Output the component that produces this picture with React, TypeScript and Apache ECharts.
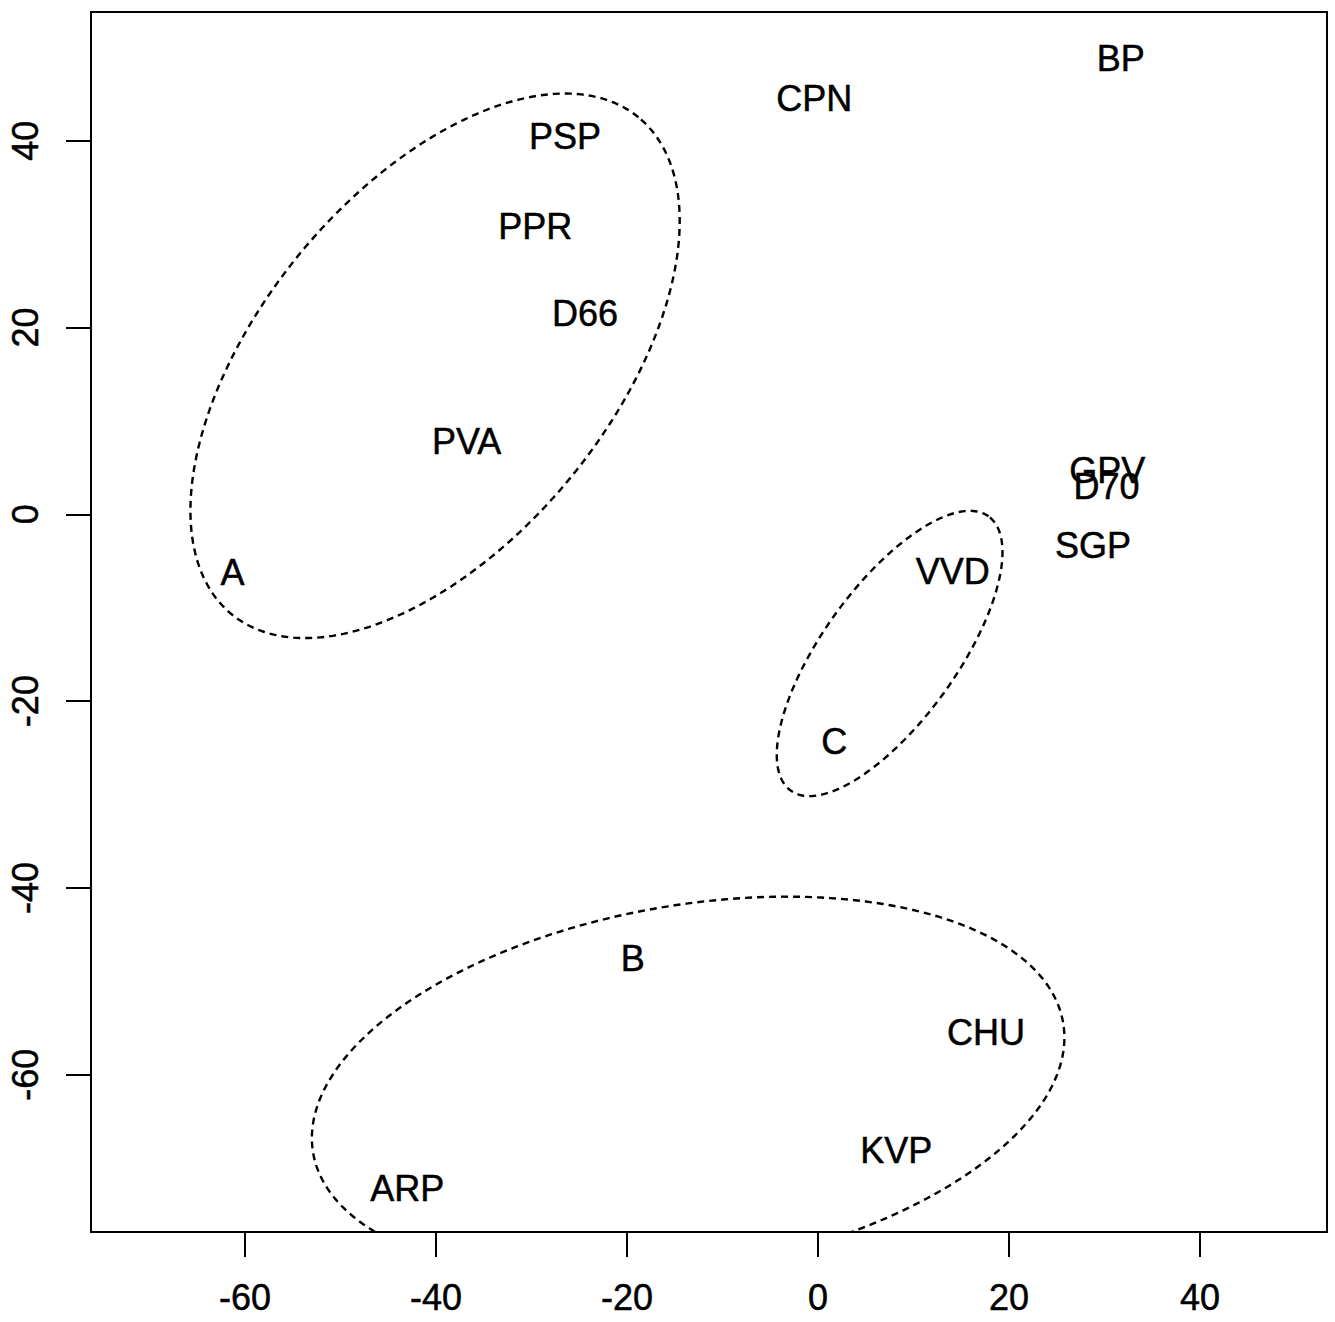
import React, { useEffect, useRef } from "react";
import * as echarts from "echarts";

// Party labels and their coordinates
const parties = ["BP", "CPN", "PSP", "PPR", "D66", "PVA", "GPV", "D70", "SGP", "VVD", "A", "C", "B", "CHU", "KVP", "ARP"];
const xValues = [31.7, -0.4, -26.5, -29.6, -24.4, -36.8, 30.3, 30.2, 28.8, 14.1, -61.3, 1.7, -19.4, 17.6, 8.2, -43.0];
const yValues = [48.8, 44.5, 40.4, 30.8, 21.5, 7.8, 4.7, 3.0, -3.3, -6.1, -6.2, -24.3, -47.6, -55.5, -68.1, -72.2];

// Cluster ellipses: centre x, centre y, semi-major, semi-minor, angle (deg)
const ellipseCx = [-40.1, -13.6, 7.5];
const ellipseCy = [15.9, -61.4, -14.9];
const ellipseA = [34.0, 40.3, 17.9];
const ellipseB = [18.6, 19.3, 7.1];
const ellipseAngle = [50.7, 9.9, 54.2];

const tickValues = [-60, -40, -20, 0, 20, 40];

const X_MIN = -76.13;
const X_MAX = 53.3;
const Y_MIN = -76.84;
const Y_MAX = 53.78;

export default function App() {
  const ref = useRef<HTMLDivElement>(null);

  useEffect(() => {
    if (!ref.current) return;
    const chart = echarts.init(ref.current, undefined, { renderer: "svg" });

    const font = "'Liberation Sans', Arial, Helvetica, sans-serif";

    const labelData = parties.map((p, i) => ({ name: p, value: [xValues[i], yValues[i]] }));
    const ellipseData = ellipseCx.map((cx, i) => [cx, ellipseCy[i], ellipseA[i], ellipseB[i], ellipseAngle[i]]);

    const axisLabelBase = {
      customValues: tickValues,
      fontSize: 36,
      fontFamily: font,
      color: "#000",
      textBorderColor: "#000",
      textBorderWidth: 0.5,
      showMinLabel: true,
      showMaxLabel: true,
    };

    const option: any = {
      animation: false,
      backgroundColor: "#ffffff",
      grid: {
        left: 91,
        right: 8,
        top: 12,
        bottom: 90,
        show: true,
        borderColor: "#000",
        borderWidth: 2,
        backgroundColor: "transparent",
      },
      xAxis: {
        type: "value",
        min: X_MIN,
        max: X_MAX,
        axisLine: { show: false, onZero: false },
        splitLine: { show: false },
        axisTick: {
          show: true,
          customValues: tickValues,
          length: 25,
          lineStyle: { color: "#000", width: 2 },
        },
        axisLabel: { ...axisLabelBase, margin: 47 },
      },
      yAxis: {
        type: "value",
        min: Y_MIN,
        max: Y_MAX,
        axisLine: { show: false, onZero: false },
        splitLine: { show: false },
        axisTick: {
          show: true,
          customValues: tickValues,
          length: 25,
          lineStyle: { color: "#000", width: 2 },
        },
        axisLabel: { ...axisLabelBase, rotate: 90, margin: 48 },
      },
      series: [
        {
          type: "custom",
          clip: true,
          silent: true,
          data: ellipseData,
          renderItem: (params: any, api: any) => {
            const c = api.coord([api.value(0), api.value(1)]);
            const sz = api.size([1, 1]);
            const s = (sz[0] + sz[1]) / 2;
            const a = api.value(2) * s;
            const b = api.value(3) * s;
            const th = (api.value(4) * Math.PI) / 180;
            const pts: number[][] = [];
            const n = 240;
            for (let k = 0; k <= n; k++) {
              const t = (k / n) * Math.PI * 2;
              const ex = a * Math.cos(t);
              const ey = b * Math.sin(t);
              pts.push([c[0] + ex * Math.cos(th) - ey * Math.sin(th), c[1] - (ex * Math.sin(th) + ey * Math.cos(th))]);
            }
            const cs = params.coordSys;
            return {
              type: "group",
              clipPath: { type: "rect", shape: { x: cs.x, y: cs.y, width: cs.width, height: cs.height } },
              children: [
                {
                  type: "polyline",
                  shape: { points: pts },
                  style: { fill: "none", stroke: "#000", lineWidth: 2.4, lineDash: [7, 5] },
                },
              ],
            };
          },
        },
        {
          type: "scatter",
          symbolSize: 0,
          silent: true,
          itemStyle: { opacity: 1 },
          data: labelData,
          label: {
            show: true,
            position: "inside",
            formatter: (p: any) => p.name,
            fontSize: 36,
            fontFamily: font,
            color: "#000",
            opacity: 1,
            textBorderColor: "#000",
            textBorderWidth: 0.5,
          },
        },
      ],
    };

    chart.setOption(option);
    return () => chart.dispose();
  }, []);

  return (
    <div
      ref={ref}
      style={{ position: "fixed", left: 0, top: 0, width: 1335, height: 1322, background: "#fff" }}
    />
  );
}
